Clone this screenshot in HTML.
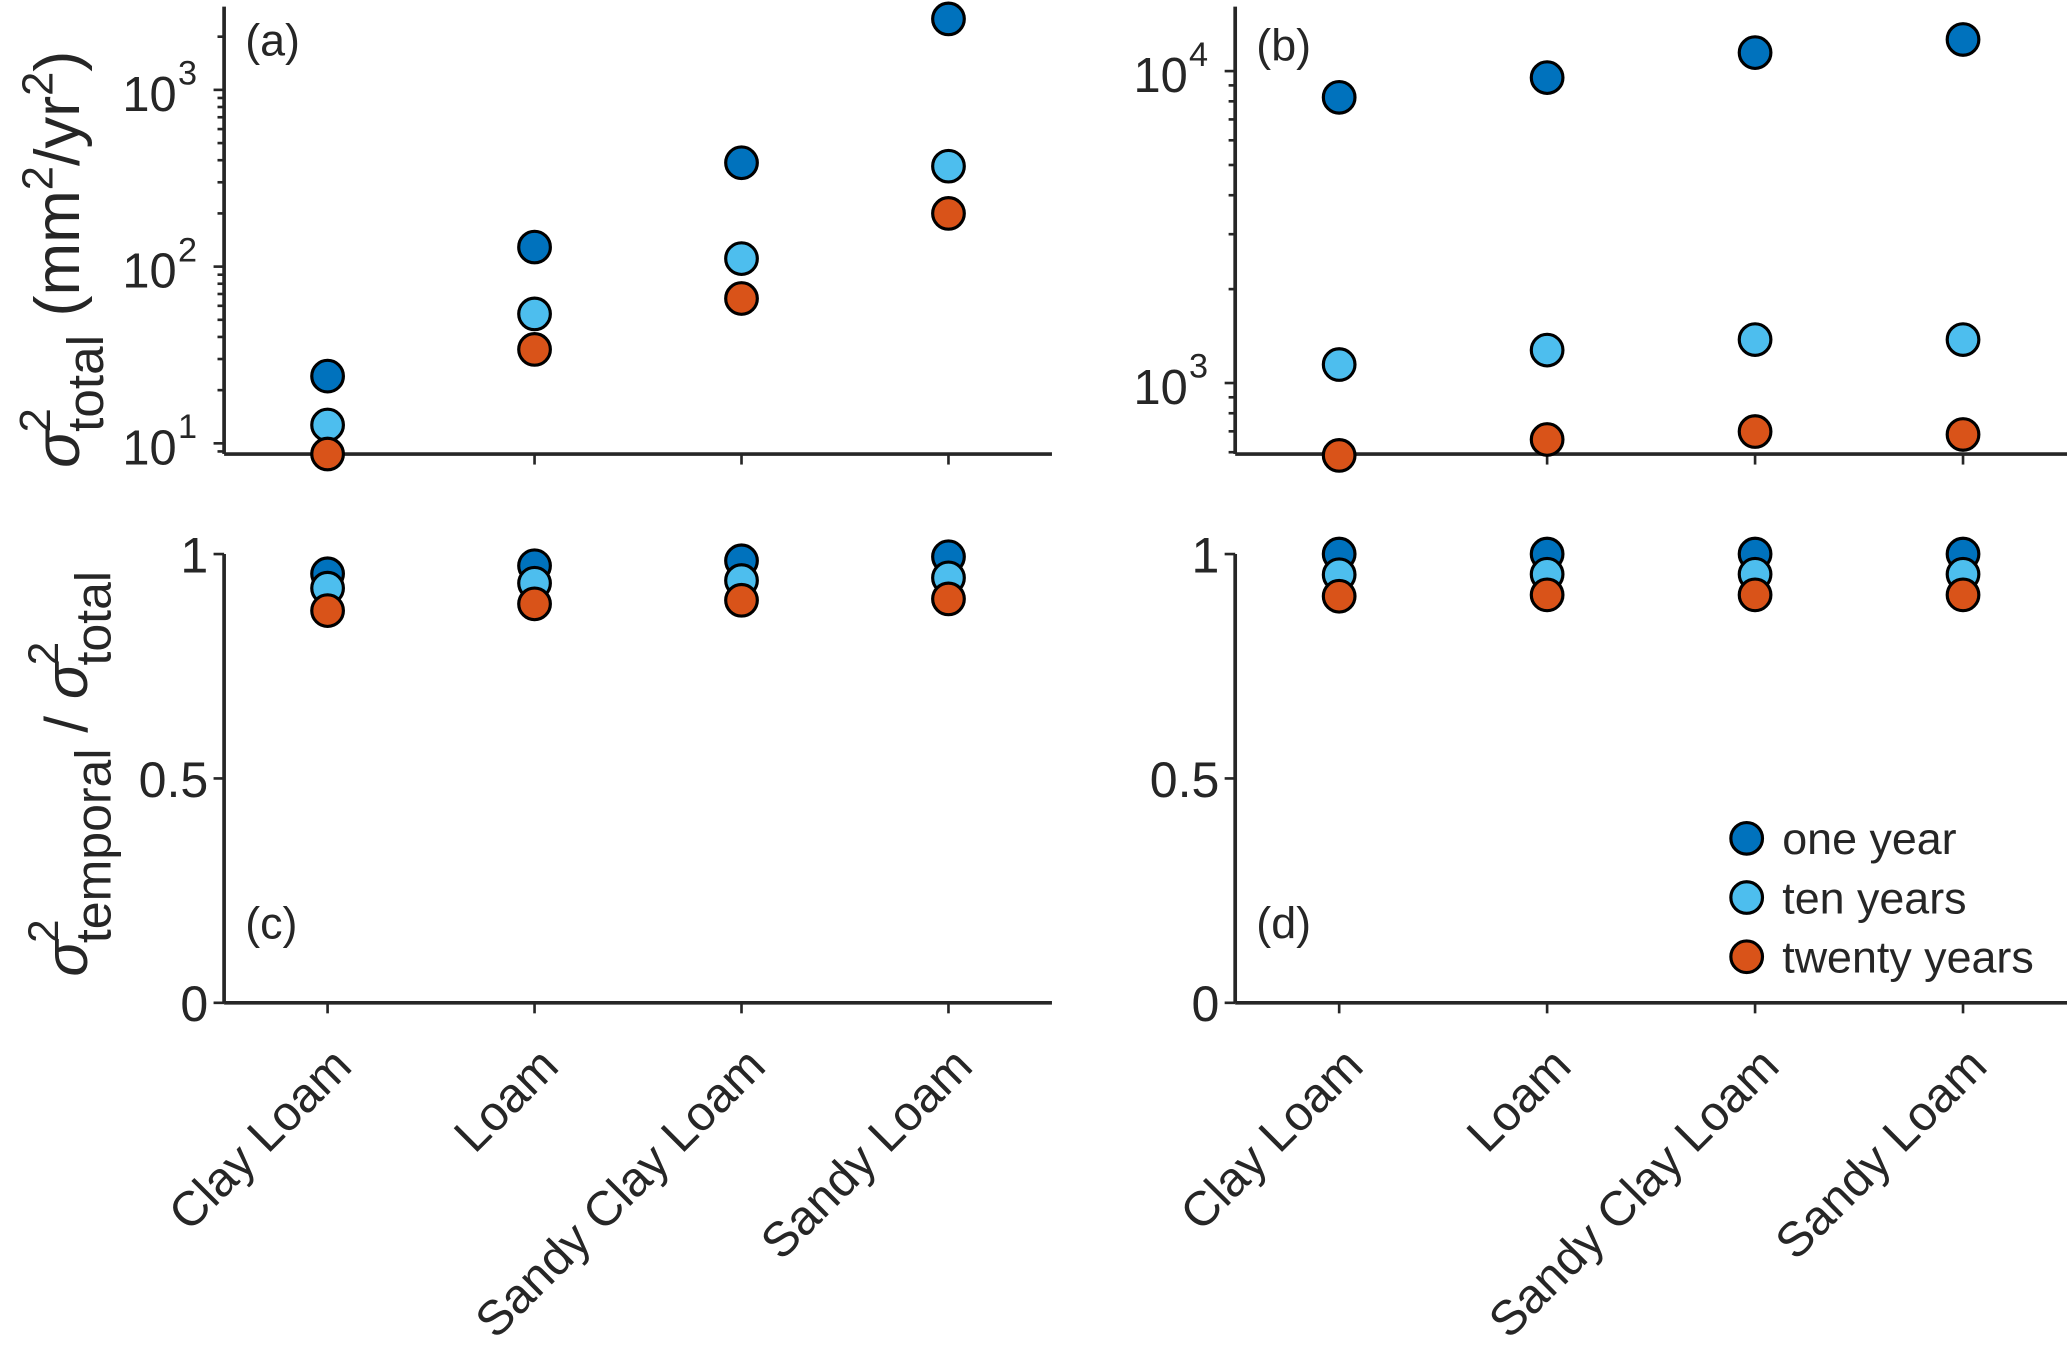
<!DOCTYPE html>
<html><head><meta charset="utf-8"><style>
html,body{margin:0;padding:0;background:#fff;}
svg{display:block;}
text{font-family:"Liberation Sans",sans-serif;fill:#262626;}
</style></head><body>
<svg id="fig" width="2067" height="1345" viewBox="0 0 1568 1022" preserveAspectRatio="none" xmlns="http://www.w3.org/2000/svg"></svg>
<script>
const categories = ["Clay Loam","Loam","Sandy Clay Loam","Sandy Loam"];
const seriesNames = ["one year","ten years","twenty years"];
const seriesColors = ["#0072BD","#4DBEEE","#D95319"];
const aOne = [24, 129, 387, 2520];
const aTen = [12.7, 54, 111, 370];
const aTwenty = [8.7, 34, 66, 200];
const bOne = [8240, 9530, 11460, 12630];
const bTen = [1146, 1275, 1378, 1378];
const bTwenty = [586, 659, 699, 684];
const cOne = [0.956, 0.974, 0.985, 0.994];
const cTen = [0.924, 0.935, 0.941, 0.947];
const cTwenty = [0.874, 0.889, 0.897, 0.900];
const dOne = [1.0, 1.0, 1.0, 1.0];
const dTen = [0.954, 0.955, 0.955, 0.955];
const dTwenty = [0.906, 0.909, 0.909, 0.909];
const aTicks = [1, 2, 3];
const bTicks = [3, 4];
const linTicks = [0, 0.5, 1];
const linTickLabels = ["0", "0.5", "1"];

const NS = "http://www.w3.org/2000/svg";
const svg = document.getElementById('fig');
function mk(tag, attrs, parent) {
  const e = document.createElementNS(NS, tag);
  for (const k in attrs) e.setAttribute(k, attrs[k]);
  (parent || svg).appendChild(e);
  return e;
}
const AX = "#262626";

function panel(opt) {
  const g = mk('g', {});
  
  
  const {x0, x1, yTop, yBot} = opt;
  const xs = i => x0 + (x1 - x0) * (i + 0.5) / categories.length;
  let ys;
  if (opt.log) {
    const lmin = Math.log10(opt.ymin), lmax = Math.log10(opt.ymax);
    ys = v => yBot - (Math.log10(v) - lmin) / (lmax - lmin) * (yBot - yTop);
  } else {
    ys = v => yBot - (v - opt.ymin) / (opt.ymax - opt.ymin) * (yBot - yTop);
  }
  const xa = mk('line', {x1: x0, y1: yBot, x2: x1, y2: yBot, stroke: AX, 'stroke-width': 2.8}, g);
  
  
  const ya = mk('line', {x1: x0, y1: yTop, x2: x0, y2: yBot, stroke: AX, 'stroke-width': 2.8}, g);
  
  
  categories.forEach((c, i) => {
    mk('line', {x1: xs(i), y1: yBot, x2: xs(i), y2: yBot + 8, stroke: AX, 'stroke-width': 2}, g);
    if (opt.xlabels) {
      const t = mk('text', {x: 0, y: 0, 'font-size': 37, 'text-anchor': 'end',
        transform: `translate(${xs(i) + 20},${yBot + 50}) rotate(-45)`}, g);
      t.textContent = c;
      
      
    }
  });
  if (opt.log) {
    const lmin = Math.log10(opt.ymin), lmax = Math.log10(opt.ymax);
    for (let d = Math.floor(lmin); d <= Math.ceil(lmax); d++) {
      for (let m = 1; m <= 9; m++) {
        const v = m * Math.pow(10, d);
        if (v < opt.ymin || v > opt.ymax) continue;
        const y = ys(v);
        mk('line', {x1: x0, y1: y, x2: x0 - (m === 1 ? 8 : 5), y2: y, stroke: AX, 'stroke-width': 2}, g);
      }
    }
    opt.ticks.forEach(p => {
      const y = ys(Math.pow(10, p));
      const t = mk('text', {x: x0 - 36, y: y + 16, 'font-size': 37, 'text-anchor': 'end'}, g);
      t.textContent = "10";
      
      
      const s = mk('text', {x: x0 - 35, y: y - 4, 'font-size': 26, 'text-anchor': 'start'}, g);
      s.textContent = String(p);
    });
  } else {
    linTicks.forEach((v, k) => {
      const y = ys(v);
      mk('line', {x1: x0, y1: y, x2: x0 - 8, y2: y, stroke: AX, 'stroke-width': 2}, g);
      const t = mk('text', {x: x0 - 12, y: y + 14, 'font-size': 38, 'text-anchor': 'end'}, g);
      t.textContent = linTickLabels[k];
      
      
    });
  }
  const pl = mk('text', {x: x0 + 16, y: opt.labelY, 'font-size': 34, fill: '#000'}, g);
  pl.textContent = opt.label;
  
  
  opt.series.forEach((arr, si) => {
    arr.forEach((v, i) => {
      const c = mk('circle', {cx: xs(i), cy: ys(v), r: 12, fill: seriesColors[si], stroke: '#000', 'stroke-width': 2.4}, g);
      
      
    });
  });
}

panel({name: 'panel-a', x0: 170, x1: 798, yTop: 5, yBot: 345, log: true, ymin: 8.7, ymax: 2960, ticks: aTicks, label: '(a)', labelY: 42, series: [aOne, aTen, aTwenty], xlabels: false});
panel({name: 'panel-b', x0: 937, x1: 1568, yTop: 5, yBot: 345, log: true, ymin: 592, ymax: 16100, ticks: bTicks, label: '(b)', labelY: 46, series: [bOne, bTen, bTwenty], xlabels: false});
panel({name: 'panel-c', x0: 170, x1: 798, yTop: 421, yBot: 762, log: false, ymin: 0, ymax: 1, label: '(c)', labelY: 713, series: [cOne, cTen, cTwenty], xlabels: true});
panel({name: 'panel-d', x0: 937, x1: 1568, yTop: 421, yBot: 762, log: false, ymin: 0, ymax: 1, label: '(d)', labelY: 713, series: [dOne, dTen, dTwenty], xlabels: true});

const yt1 = mk('text', {x: 0, y: 0, 'font-size': 48, 'text-anchor': 'middle', transform: 'translate(60,197) rotate(-90)'});


yt1.innerHTML = '<tspan font-style="italic">σ</tspan><tspan font-size="33" dy="-22" dx="-2">2</tspan><tspan font-size="39" dy="40" dx="-18">total</tspan><tspan dy="-18" dx="14">(mm</tspan><tspan font-size="33" dy="-20">2</tspan><tspan dy="20">/yr</tspan><tspan font-size="33" dy="-20">2</tspan><tspan dy="20">)</tspan>';

const yt2 = mk('text', {x: 0, y: 0, 'font-size': 46, 'text-anchor': 'middle', transform: 'translate(66,588) rotate(-90)'});


yt2.innerHTML = '<tspan font-style="italic">σ</tspan><tspan font-size="32" dy="-22" dx="-2">2</tspan><tspan font-size="38" dy="40" dx="-18">temporal</tspan><tspan dy="-18" dx="12">/ </tspan><tspan font-style="italic">σ</tspan><tspan font-size="32" dy="-22" dx="-2">2</tspan><tspan font-size="38" dy="40" dx="-18">total</tspan>';

const lg = mk('g', {});


seriesNames.forEach((n, i) => {
  const y = 637 + i * 45;
  const c = mk('circle', {cx: 1325, cy: y, r: 12, fill: seriesColors[i], stroke: '#000', 'stroke-width': 2.4}, lg);
  
  
  const t = mk('text', {x: 1352, y: y + 12, 'font-size': 34, fill: '#000'}, lg);
  t.textContent = n;
  
  
});
</script>
</body></html>
